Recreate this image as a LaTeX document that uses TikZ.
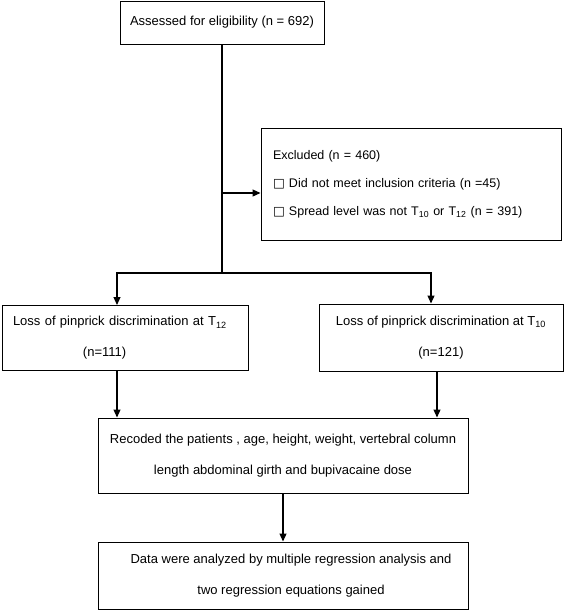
\documentclass[tikz,border=0pt]{standalone}
\usepackage{fontspec}
\setmainfont{Liberation Sans}
\newfontfamily\squarefont{DejaVu Sans}
\usetikzlibrary{arrows.meta}

\begin{document}
\begin{tikzpicture}[x=1pt,y=-1pt]
        \tikzstyle{every node}=[font=\fontsize{13}{31}\selectfont]
        \tikzstyle{stagebox}=[draw,line width=1pt,inner sep=0pt]
        \tikzstyle{flow}=[line width=1.2pt,-{Triangle[length=8pt,width=7pt]}]
        \useasboundingbox (0,0) rectangle (567,611);

        % assessed
        \node[stagebox,minimum width=204pt,minimum height=43pt] (assessed) at (222,22.5) {Assessed for eligibility (n = 692)};

        % excluded
        \node[stagebox,minimum width=300pt,minimum height=112pt,text width=276pt,inner xsep=12pt,align=left,font=\fontsize{12.5}{28}\selectfont] (excluded) at (411,184)
            {Excluded (n = 460)\\{\squarefont □} Did not meet inclusion criteria (n =45)\\{\squarefont □} Spread level was not T\textsubscript{10} or T\textsubscript{12} (n = 391)};
        \coordinate (tap) at (222,193);
        \coordinate (branch) at (222,273);
        \draw[line width=1.2pt] (assessed.south) -- (branch);
        \draw[flow] (tap) -- (tap -| excluded.west);

        % loss at T12
        \node[stagebox,minimum width=246pt,minimum height=65pt,text width=224pt,inner xsep=11pt,align=left] (lossT12) at (125,338)
            {Loss of pinprick discrimination at T\textsubscript{12}\\\hspace*{70pt}(n=111)};
        \coordinate (intwelve) at ([xshift=-8pt]lossT12.north);
        \draw[flow] (branch) -| (intwelve);

        % loss at T10
        \node[stagebox,minimum width=244pt,minimum height=67pt,align=center] (lossT10) at (441,337.5)
            {Loss of pinprick discrimination at T\textsubscript{10}\\(n=121)};
        \coordinate (inten) at ([xshift=-10pt]lossT10.north);
        \draw[flow] (branch) -| (inten);

        % recoded
        \node[stagebox,minimum width=370pt,minimum height=75pt,align=center] (recoded) at (283,455.5)
            {Recoded the patients , age, height, weight, vertebral column\\length abdominal girth and bupivacaine dose};
        \coordinate (outtwelve) at ([xshift=-8pt]lossT12.south);
        \coordinate (outten) at ([xshift=-4pt]lossT10.south);
        \draw[flow] (outtwelve) -- (outtwelve |- recoded.north);
        \draw[flow] (outten) -- (outten |- recoded.north);

        % analysis
        \node[stagebox,minimum width=370pt,minimum height=67pt,align=center] (analysis) at (283,575.5)
            {\hspace*{16pt}Data were analyzed by multiple regression analysis and\\\hspace*{16pt}two regression equations gained};
        \draw[flow] (recoded) -- (analysis);
\end{tikzpicture}
\end{document}
